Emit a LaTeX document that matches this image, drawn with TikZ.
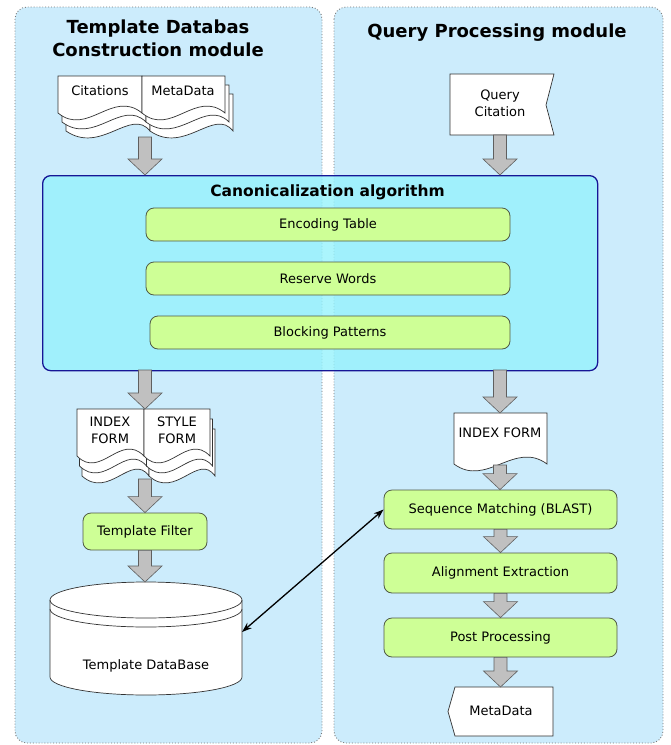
\documentclass[tikz,border=0pt]{standalone}
\usepackage{fontspec}
\setmainfont{DejaVu Sans}
\usetikzlibrary{arrows.meta,calc}

\definecolor{modulebg}{RGB}{204,236,252}
\definecolor{moduleline}{RGB}{120,120,120}
\definecolor{canonfill}{RGB}{150,242,252}
\definecolor{canonline}{RGB}{22,22,150}
\definecolor{stepfill}{RGB}{206,255,150}
\definecolor{stepline}{RGB}{80,90,70}
\definecolor{arrowfill}{RGB}{192,192,192}
\definecolor{arrowline}{RGB}{95,95,95}
\definecolor{sheetline}{RGB}{50,50,50}

% gray block arrow pointing down from #1 to #2 (same x)
\newcommand\garrow[2]{%
  \draw[blockarrow] let \p1=#1, \p2=#2 in
    (\x1-6.5pt,\y1) -- (\x1+6.5pt,\y1) -- (\x1+6.5pt,\y2+16pt) --
    (\x1+17pt,\y2+16pt) -- (\x1,\y2) -- (\x1-17pt,\y2+16pt) --
    (\x1-6.5pt,\y2+16pt) -- cycle;}

% one sheet of paper with a wavy lower edge: x1, top, x2, bottom
\newcommand\sheet[4]{%
  \draw[sheetstyle] (#1,#2) -- (#3,#2) -- (#3,#4)
    .. controls ({#1+0.65*(#3-#1)},{#4-24}) and ({#1+0.35*(#3-#1)},{#4+24}) ..
    (#1,#4) -- cycle;}

% stack of three sheets, front one at x1, top, x2, bottom; offsets dx, dy
\newcommand\sheetstack[6]{%
  \sheet{#1+2*#5}{#2+2*#6}{#3+2*#5}{#4+2*#6}%
  \sheet{#1+#5}{#2+#6}{#3+#5}{#4+#6}%
  \sheet{#1}{#2}{#3}{#4}}

\begin{document}
\begin{tikzpicture}[x=1pt,y=-1pt,
  module/.style={fill=modulebg, draw=moduleline, dotted, line width=0.9pt,
    rounded corners=12pt},
  title/.style={font=\bfseries\fontsize{18}{23}\selectfont, align=center,
    inner sep=0pt},
  canon/.style={fill=canonfill, fill opacity=0.8, draw=canonline,
    line width=1.3pt, rounded corners=8pt, inner sep=0pt},
  stepbox/.style={fill=stepfill, draw=stepline, line width=0.8pt,
    rounded corners=8pt, inner sep=0pt,
    font=\fontsize{13}{15}\selectfont},
  label/.style={font=\fontsize{13}{17}\selectfont, align=center,
    inner sep=0pt},
  sheetstyle/.style={fill=white, draw=sheetline, line width=0.7pt},
  blockarrow/.style={fill=arrowfill, draw=arrowline, line width=0.6pt},
  link/.style={{Stealth[length=10pt,width=7pt]}-{Stealth[length=10pt,width=7pt]},
    line width=1.3pt, black},
]
\useasboundingbox (0,0) rectangle (670,745);

% the two module panels
\draw[module] (15,7) rectangle (322,743);
\draw[module] (334,7) rectangle (663,743);

\node[title] (ttl) at (158,38.5) {Template Databas\\Construction module};
\node[title] (ttr) at (497,33) {Query Processing module};

% ---------------- left column ----------------
\sheetstack{58}{76}{142}{113}{4}{9}
\sheetstack{142}{76}{225}{113}{4}{9}
\node[label] (cit) at (100,91) {Citations};
\node[label] (meta) at (183,91) {MetaData};
\coordinate (inL) at (145,137);

% canonicalization block
\node[canon, minimum width=555pt, minimum height=195pt, anchor=north west]
  (canon) at (42,175) {};
\node[font=\bfseries\fontsize{15.5}{18}\selectfont, inner sep=0pt]
  (canonttl) at (327.5,192) {Canonicalization algorithm};
\node[stepbox, minimum width=364pt, minimum height=33pt] (enc) at (328,224.5) {Encoding Table};
\node[stepbox, minimum width=364pt, minimum height=33pt] (rsv) at (328,278.5) {Reserve Words};
\node[stepbox, minimum width=360pt, minimum height=33pt] (blk) at (330,332.5) {Blocking Patterns};

\garrow{(inL)}{(inL |- canon.north)}

% index / style forms
\coordinate (outL) at (145,370);
\sheetstack{77}{409}{144}{456}{2.5}{10}
\sheetstack{144}{409}{210}{456}{2.5}{10}
\node[label] (idxL) at (110,430) {INDEX\\FORM};
\node[label] (sty) at (177,430) {STYLE\\FORM};
\coordinate (formsL) at (145,409);
\garrow{(outL)}{(formsL)}

\node[stepbox, minimum width=124pt, minimum height=37pt] (filt) at (145,531.5) {Template Filter};
\coordinate (formsB) at (145,479);
\garrow{(formsB)}{(formsB |- filt.north)}

% template database cylinder
\draw[sheetstyle] (50,600) -- (50,677)
  arc[start angle=180, end angle=0, x radius=96, y radius=18]
  -- (242,600)
  arc[start angle=0, end angle=-180, x radius=96, y radius=18] -- cycle;
\draw[sheetstyle, fill=none] (50,600) arc[start angle=180, end angle=0, x radius=96, y radius=18];
\draw[sheetstyle, fill=none] (50,609) arc[start angle=180, end angle=0, x radius=96, y radius=18];
\node[label] (db) at (146,666) {Template DataBase};
\coordinate (dbT) at (146,582);
\coordinate (dbE) at (242,632);
\garrow{(filt.south)}{(dbT)}

% ---------------- right column ----------------
\draw[sheetstyle] (450,74) -- (554,74) -- (546,105) -- (554,135) -- (450,135) -- cycle;
\node[label] (qc) at (500,103.5) {Query\\Citation};
\coordinate (qcB) at (500,135);
\garrow{(qcB)}{(qcB |- canon.north)}

\coordinate (outR) at (500,370);
\sheet{454}{413}{547}{464}
\node[label] (idxR) at (500,433) {INDEX FORM};
\coordinate (idxT) at (500,413);
\garrow{(outR)}{(idxT)}

\node[stepbox, minimum width=233pt, minimum height=39pt] (seq) at (500.5,509.5) {Sequence Matching (BLAST)};
\node[stepbox, minimum width=233pt, minimum height=40pt] (aln) at (500.5,573) {Alignment Extraction};
\node[stepbox, minimum width=233pt, minimum height=39pt] (post) at (500.5,637.5) {Post Processing};

\coordinate (idxB) at (500,465);
\garrow{(idxB)}{(idxB |- seq.north)}
\garrow{(seq.south)}{(aln.north)}
\garrow{(aln.south)}{(post.north)}

\draw[sheetstyle] (455,687) -- (553,687) -- (553,736) -- (455,736) -- (448,711.5) -- cycle;
\node[label] (mdo) at (501,711) {MetaData};
\coordinate (mdoT) at (500.5,687);
\garrow{(post.south)}{(mdoT)}

% link between matching and the database
\draw[link] (seq.west) -- (dbE);
\end{tikzpicture}
\end{document}
